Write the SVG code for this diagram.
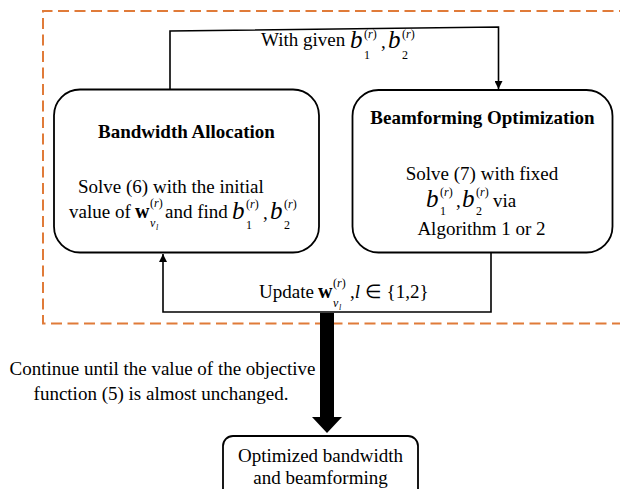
<svg xmlns="http://www.w3.org/2000/svg" width="620" height="489" viewBox="0 0 620 489">
<defs>
<style>
.t{font-family:"Liberation Serif","Times New Roman",serif;font-size:19px;fill:#000}
.bd{font-weight:bold}
.it{font-style:italic}
.bw{font-weight:bold;font-size:20px}
.bb{font-style:italic;font-size:25px}
.sp{font-size:12px}
.ss{font-size:8px;font-style:italic}
.box{fill:#fff;stroke:#000;stroke-width:1.8}
.ln{fill:none;stroke:#000;stroke-width:1.6}
.dash{fill:none;stroke:#E07B39;stroke-width:2;stroke-dasharray:11 5.5}
</style>
<marker id="ah" viewBox="0 0 10 10" refX="10" refY="5" markerWidth="8" markerHeight="8" markerUnits="userSpaceOnUse" orient="auto">
<path d="M0,0 L10,5 L0,10 z" fill="#000"/>
</marker>
</defs>
<rect width="620" height="489" fill="#fff"/>
<path class="dash" d="M630,11 L43,11 L43,323.5 L630,323.5"/>

<g id="connectors">
<path class="ln" d="M170,89 L170,31 L498.5,27 L498.5,89" marker-end="url(#ah)"/>
<path class="ln" d="M491,253 L491,312 L163,312 L163,254" marker-end="url(#ah)"/>
<polygon points="320,313 334,313 334,417 342,417 327,433 312,417 320,417" fill="#000"/>
</g>

<g id="label-top">
<text class="t" x="261" y="46">With given</text>
<text class="t bb" x="350" y="48">b</text>
<text class="t sp" x="364" y="59">1</text>
<text class="t sp" x="364" y="38">(<tspan class="it">r</tspan>)</text>
<text class="t" x="381" y="48">,</text>
<text class="t bb" x="388" y="48">b</text>
<text class="t sp" x="402" y="59">2</text>
<text class="t sp" x="402" y="38">(<tspan class="it">r</tspan>)</text>
</g>

<g id="bandwidth-allocation">
<rect class="box" x="54" y="89.5" width="265" height="163" rx="26"/>
<text class="t bd" x="186.5" y="138" text-anchor="middle">Bandwidth Allocation</text>
<text class="t" x="78" y="193">Solve (6) with the initial</text>
<text class="t" x="69" y="218">value of</text>
<text class="t bw" x="135" y="218">w</text>
<text class="t sp" x="150" y="207">(<tspan class="it">r</tspan>)</text>
<text class="t sp it" x="150" y="227">v</text>
<text class="t ss" x="156" y="230">l</text>
<text class="t" x="165" y="218">and find</text>
<text class="t bb" x="232" y="219">b</text>
<text class="t sp" x="246" y="229">1</text>
<text class="t sp" x="246" y="208">(<tspan class="it">r</tspan>)</text>
<text class="t" x="263" y="219">,</text>
<text class="t bb" x="270" y="219">b</text>
<text class="t sp" x="284" y="229">2</text>
<text class="t sp" x="284" y="208">(<tspan class="it">r</tspan>)</text>
</g>

<g id="beamforming-optimization">
<rect class="box" x="352.5" y="90" width="260" height="162.5" rx="26"/>
<text class="t bd" x="482.5" y="124" text-anchor="middle">Beamforming Optimization</text>
<text class="t" x="482" y="180" text-anchor="middle">Solve (7) with fixed</text>
<text class="t bb" x="426" y="207">b</text>
<text class="t sp" x="440" y="215">1</text>
<text class="t sp" x="440" y="196">(<tspan class="it">r</tspan>)</text>
<text class="t" x="456" y="207">,</text>
<text class="t bb" x="462" y="207">b</text>
<text class="t sp" x="476" y="215">2</text>
<text class="t sp" x="476" y="196">(<tspan class="it">r</tspan>)</text>
<text class="t" x="493" y="207">via</text>
<text class="t" x="481.5" y="235" text-anchor="middle">Algorithm 1 or 2</text>
</g>

<g id="label-update">
<text class="t" x="259" y="298">Update</text>
<text class="t bw" x="318" y="298">w</text>
<text class="t sp" x="333" y="287">(<tspan class="it">r</tspan>)</text>
<text class="t sp it" x="333" y="307">v</text>
<text class="t ss" x="339" y="310">l</text>
<text class="t" x="350" y="298">,<tspan class="it">l</tspan> ∈ {1,2}</text>
</g>

<g id="label-continue">
<text class="t" x="162.5" y="375" text-anchor="middle">Continue until the value of the objective</text>
<text class="t" x="161" y="400" text-anchor="middle">function (5) is almost unchanged.</text>
</g>

<g id="result">
<rect class="box" x="223" y="436" width="195" height="70" rx="10"/>
<text class="t" x="320.5" y="462" text-anchor="middle">Optimized bandwidth</text>
<text class="t" x="320.5" y="484" text-anchor="middle">and beamforming</text>
</g>
</svg>
